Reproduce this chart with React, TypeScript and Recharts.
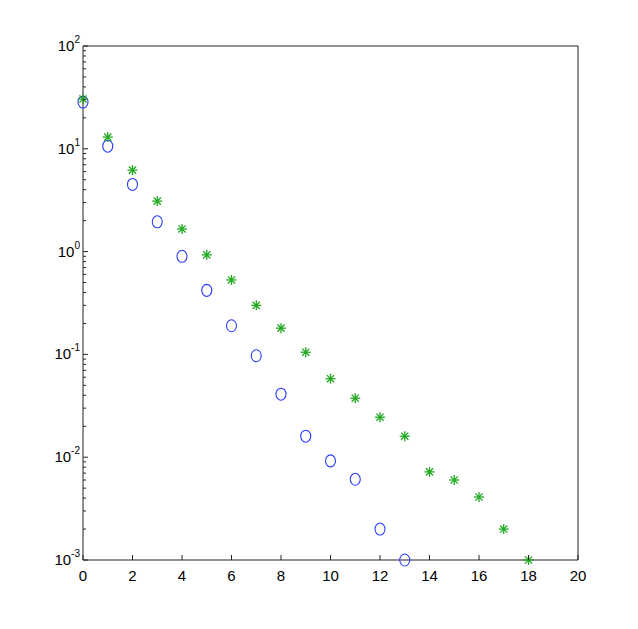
import React from 'react';
import { ScatterChart, Scatter, XAxis, YAxis } from 'recharts';

// values (log scale)
const xValues = [0, 1, 2, 3, 4, 5, 6, 7, 8, 9, 10, 11, 12, 13, 14, 15, 16, 17, 18];
const circleValues = [28.5, 10.6, 4.5, 1.95, 0.9, 0.42, 0.19, 0.097, 0.041, 0.016, 0.0092, 0.0061, 0.002, 0.001];
const starValues = [30.5, 13, 6.2, 3.1, 1.66, 0.93, 0.53, 0.3, 0.18, 0.105, 0.058, 0.0375, 0.0245, 0.016, 0.0072, 0.006, 0.0041, 0.002, 0.001];

const xTicks = [0, 2, 4, 6, 8, 10, 12, 14, 16, 18, 20];
const decades = [-3, -2, -1, 0, 1, 2];

const circleData = circleValues.map((v, i) => ({ x: xValues[i], y: v }));
const starData = starValues.map((v, i) => ({ x: xValues[i], y: v }));

// major + minor log ticks
const yTicks: number[] = [];
decades.forEach(d => {
  yTicks.push(Math.pow(10, d));
  if (d < 2) for (let m = 2; m <= 9; m++) yTicks.push(m * Math.pow(10, d));
});

const W = 638;
const H = 629;
const M = { top: 46, right: 60, bottom: 69, left: 83 };
const PLOT_TOP = M.top;
const PLOT_BOTTOM = H - M.bottom;
const PLOT_LEFT = M.left;
const PLOT_RIGHT = W - M.right;
const AXIS = '#222';
const FONT = '"Liberation Sans", Arial, sans-serif';

const isMajor = (v: number) => Math.abs(Math.log10(v) - Math.round(Math.log10(v))) < 1e-9;

const BottomTick = (props: any) => {
  const c = props.payload.coordinate;
  return (
    <g>
      <line x1={c} x2={c} y1={PLOT_BOTTOM} y2={PLOT_BOTTOM - 5} stroke={AXIS} />
      <text x={c} y={PLOT_BOTTOM + 21} textAnchor="middle" fontSize={15} fontFamily={FONT} fill="#000">
        {props.payload.value}
      </text>
    </g>
  );
};

const TopTick = (props: any) => {
  const c = props.payload.coordinate;
  return <line x1={c} x2={c} y1={PLOT_TOP} y2={PLOT_TOP + 5} stroke={AXIS} />;
};

const LeftTick = (props: any) => {
  const v = props.payload.value;
  const c = props.payload.coordinate;
  const major = isMajor(v);
  return (
    <g>
      <line x1={PLOT_LEFT} x2={PLOT_LEFT + (major ? 5 : 3)} y1={c} y2={c} stroke={AXIS} />
      {major && (
        <text x={PLOT_LEFT - 3} y={c + 5} textAnchor="end" fontSize={15} fontFamily={FONT} fill="#000">
          <tspan>10</tspan>
          <tspan dy={-8} fontSize={10}>{Math.round(Math.log10(v))}</tspan>
        </text>
      )}
    </g>
  );
};

const RightTick = (props: any) => {
  const v = props.payload.value;
  const c = props.payload.coordinate;
  const major = isMajor(v);
  return <line x1={PLOT_RIGHT} x2={PLOT_RIGHT - (major ? 5 : 3)} y1={c} y2={c} stroke={AXIS} />;
};

const Circle = (props: any) => (
  <ellipse cx={props.cx} cy={props.cy} rx={5} ry={6} fill="none" stroke="#2a3cff" strokeWidth={1.1} />
);

const Star = (props: any) => {
  const { cx, cy } = props;
  const r = 5;
  const d = 3.6;
  return (
    <g stroke="#1ea81e" strokeWidth={1.3}>
      <line x1={cx - r} x2={cx + r} y1={cy} y2={cy} />
      <line x1={cx} x2={cx} y1={cy - r} y2={cy + r} />
      <line x1={cx - d} x2={cx + d} y1={cy - d} y2={cy + d} />
      <line x1={cx - d} x2={cx + d} y1={cy + d} y2={cy - d} />
    </g>
  );
};

export default function App() {
  return (
    <div style={{ width: W, height: H, background: '#fff' }}>
      <style>{'body{margin:0}'}</style>
      <ScatterChart width={W} height={H} margin={{ top: 0, right: 0, bottom: 0, left: 0 }}>
        <XAxis
          xAxisId="b"
          type="number"
          dataKey="x"
          domain={[0, 20]}
          ticks={xTicks}
          orientation="bottom"
          height={M.bottom}
          tickLine={false}
          axisLine={{ stroke: AXIS }}
          tick={<BottomTick />}
          interval={0}
        />
        <XAxis
          xAxisId="t"
          type="number"
          dataKey="x"
          domain={[0, 20]}
          ticks={xTicks}
          orientation="top"
          height={M.top}
          tickLine={false}
          axisLine={{ stroke: AXIS }}
          tick={<TopTick />}
          interval={0}
        />
        <YAxis
          yAxisId="l"
          type="number"
          dataKey="y"
          scale="log"
          domain={[0.001, 100]}
          ticks={yTicks}
          orientation="left"
          width={M.left}
          tickLine={false}
          axisLine={{ stroke: AXIS }}
          tick={<LeftTick />}
          interval={0}
        />
        <YAxis
          yAxisId="r"
          type="number"
          dataKey="y"
          scale="log"
          domain={[0.001, 100]}
          ticks={yTicks}
          orientation="right"
          width={M.right}
          tickLine={false}
          axisLine={{ stroke: AXIS }}
          tick={<RightTick />}
          interval={0}
        />
        <Scatter data={circleData} xAxisId="b" yAxisId="l" shape={<Circle />} isAnimationActive={false} />
        <Scatter data={starData} xAxisId="b" yAxisId="l" shape={<Star />} isAnimationActive={false} />
      </ScatterChart>
    </div>
  );
}
